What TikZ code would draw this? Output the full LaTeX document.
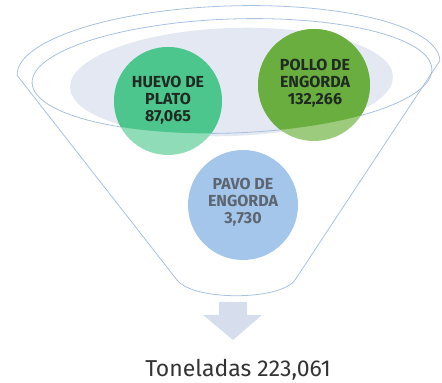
\documentclass[tikz,border=0pt]{standalone}
\usepackage{fontspec}
\setmainfont{Fira Sans}
\definecolor{rimc}{HTML}{A9C1E0}
\definecolor{bowlc}{HTML}{E3E8F3}
\definecolor{huevoD}{HTML}{4DC68D}
\definecolor{huevoL}{HTML}{8FDCB8}
\definecolor{polloD}{HTML}{6AAE3F}
\definecolor{polloL}{HTML}{9CCB7E}
\definecolor{pavoc}{HTML}{A4C6EA}
\definecolor{pavot}{HTML}{5C6570}
\definecolor{darkt}{HTML}{1F2A22}
\definecolor{arrowc}{HTML}{D6DEEE}
\definecolor{totalt}{HTML}{333333}
\newcommand\rimshape{(232,307) ellipse [x radius=200, y radius=57, rotate=2]}
\begin{document}
\begin{tikzpicture}[x=1pt,y=1pt,
  rim/.style={draw=rimc, line width=0.8pt, line join=round},
  bubble/.style={circle, inner sep=0pt, align=center,
    font=\fontsize{16}{17}\selectfont\bfseries},
  total/.style={font=\fontsize{23}{25}\selectfont, text=totalt, anchor=base}]
\useasboundingbox (0,0) rectangle (442,383);
% funnel body
\coordinate (BL) at (177,103);
\coordinate (BR) at (295,103);
\coordinate (CL) at (193,82);
\coordinate (CR) at (280,82);
\begin{scope}[shift={(228.5,315)}, rotate=2]
  \draw[rim] (-211.5,0) arc[start angle=180, end angle=0, x radius=211.5, y radius=62]
    -- (BR) .. controls (CR) and (CL) .. (BL) -- cycle;
\end{scope}
% bowl fill and inner rim
\fill[bowlc] (231.5,301) ellipse [x radius=161.5, y radius=54, rotate=2];
\draw[rim] \rimshape;
% bubbles
\node[bubble, minimum size=110pt, fill=pavoc] (pavo) at (243,178) {};
\node[bubble, minimum size=108pt, fill=huevoL] (huevo) at (168,282) {};
\node[bubble, minimum size=112pt, fill=polloL] (pollo) at (314,298) {};
\begin{scope}
  \clip \rimshape;
  \fill[huevoD] (huevo.center) circle[radius=54];
  \fill[polloD] (pollo.center) circle[radius=56];
\end{scope}
\node[bubble, text=pavot] (pavot) at (243,181) {PAVO DE\\ENGORDA\\3,730};
\node[bubble, text=darkt] (huevot) at (168,283) {HUEVO DE\\PLATO\\87,065};
\node[bubble, text=darkt] (pollot) at (315,299.5) {POLLO DE\\ENGORDA\\132,266};
% arrow
\fill[arrowc] (219,81) -- (247,81) -- (247,68) -- (262,68) -- (233,43)
  -- (203,68) -- (219,68) -- cycle;
% total
\node[total] (tot) at (238,6) {Toneladas 223,061};
\end{tikzpicture}
\end{document}
